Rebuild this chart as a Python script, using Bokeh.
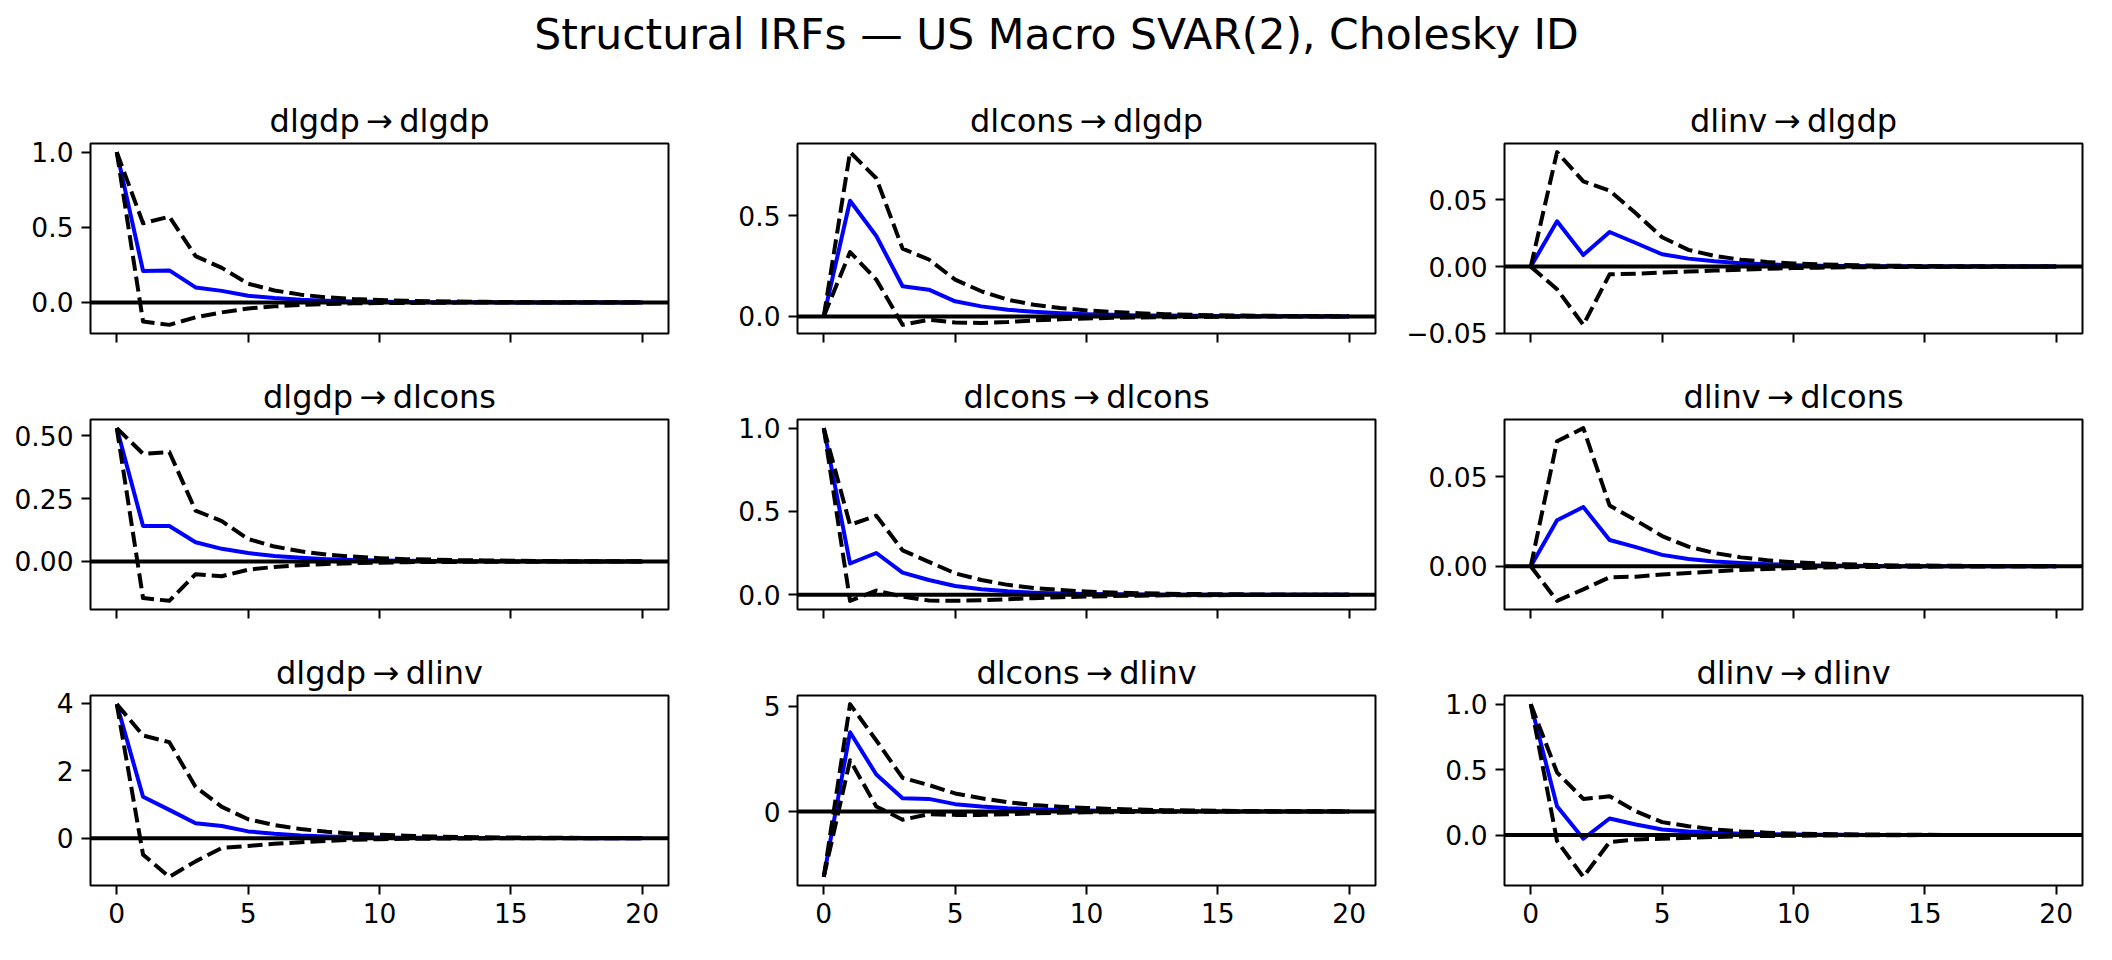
from bokeh.plotting import figure
from bokeh.models import Range1d, FixedTicker, CustomJSTickFormatter, Span
from bokeh.layouts import column, row
from bokeh.embed import file_html
from bokeh.resources import INLINE
from bokeh.core.properties import value

# ---------------- data ----------------
variables = ["dlgdp", "dlcons", "dlinv"]
horizon = list(range(21))
suptitle = "Structural IRFs \u2014 US Macro SVAR(2), Cholesky ID"

# response dlgdp
irf_dlgdp_dlgdp = [1.0, 0.21, 0.213, 0.10, 0.077, 0.045, 0.029, 0.018, 0.011, 0.007, 0.004, 0.003, 0.002, 0.001, 0.001, 0.0, 0.0, 0.0, 0.0, 0.0, 0.0]
hi_dlgdp_dlgdp = [1.0, 0.527, 0.571, 0.308, 0.23, 0.125, 0.08, 0.052, 0.034, 0.023, 0.016, 0.011, 0.008, 0.006, 0.004, 0.003, 0.002, 0.002, 0.001, 0.001, 0.001]
lo_dlgdp_dlgdp = [1.0, -0.127, -0.149, -0.099, -0.066, -0.040, -0.026, -0.016, -0.010, -0.006, -0.004, -0.003, -0.002, -0.001, -0.001, -0.001, 0.0, 0.0, 0.0, 0.0, 0.0]

irf_dlcons_dlgdp = [0.0, 0.575, 0.40, 0.15, 0.133, 0.075, 0.05, 0.033, 0.023, 0.016, 0.011, 0.008, 0.005, 0.004, 0.003, 0.002, 0.001, 0.001, 0.001, 0.0, 0.0]
hi_dlcons_dlgdp = [0.0, 0.817, 0.687, 0.337, 0.283, 0.183, 0.125, 0.083, 0.058, 0.042, 0.030, 0.022, 0.016, 0.011, 0.008, 0.006, 0.004, 0.003, 0.002, 0.002, 0.001]
lo_dlcons_dlgdp = [0.0, 0.32, 0.183, -0.042, -0.017, -0.030, -0.033, -0.028, -0.020, -0.014, -0.010, -0.007, -0.005, -0.004, -0.003, -0.002, -0.001, -0.001, -0.001, 0.0, 0.0]

irf_dlinv_dlgdp = [0.0, 0.034, 0.0088, 0.026, 0.0177, 0.0093, 0.006, 0.004, 0.0025, 0.0017, 0.0011, 0.0007, 0.0005, 0.0003, 0.0002, 0.0001, 0.0001, 0.0, 0.0, 0.0, 0.0]
hi_dlinv_dlgdp = [0.0, 0.0859, 0.064, 0.057, 0.040, 0.022, 0.0126, 0.008, 0.0052, 0.0035, 0.0024, 0.0017, 0.0012, 0.0008, 0.0006, 0.0004, 0.0003, 0.0002, 0.0002, 0.0001, 0.0001]
lo_dlinv_dlgdp = [0.0, -0.017, -0.0437, -0.0058, -0.0053, -0.0045, -0.0037, -0.003, -0.0023, -0.0016, -0.0011, -0.0008, -0.0005, -0.0004, -0.0003, -0.0002, -0.0001, -0.0001, 0.0, 0.0, 0.0]

# response dlcons
irf_dlgdp_dlcons = [0.53, 0.141, 0.141, 0.076, 0.05, 0.033, 0.021, 0.014, 0.009, 0.006, 0.004, 0.003, 0.002, 0.001, 0.001, 0.001, 0.0, 0.0, 0.0, 0.0, 0.0]
hi_dlgdp_dlcons = [0.53, 0.428, 0.435, 0.202, 0.160, 0.089, 0.059, 0.040, 0.027, 0.019, 0.013, 0.009, 0.007, 0.005, 0.004, 0.003, 0.002, 0.001, 0.001, 0.001, 0.001]
lo_dlgdp_dlcons = [0.53, -0.146, -0.157, -0.051, -0.059, -0.033, -0.022, -0.015, -0.010, -0.007, -0.005, -0.003, -0.002, -0.002, -0.001, -0.001, -0.001, 0.0, 0.0, 0.0, 0.0]

irf_dlcons_dlcons = [1.0, 0.188, 0.251, 0.133, 0.089, 0.053, 0.034, 0.021, 0.013, 0.008, 0.005, 0.003, 0.002, 0.001, 0.001, 0.0, 0.0, 0.0, 0.0, 0.0, 0.0]
hi_dlcons_dlcons = [1.0, 0.42, 0.475, 0.267, 0.198, 0.129, 0.089, 0.060, 0.041, 0.029, 0.020, 0.014, 0.010, 0.007, 0.005, 0.004, 0.003, 0.002, 0.001, 0.001, 0.001]
lo_dlcons_dlcons = [1.0, -0.036, 0.026, -0.010, -0.034, -0.036, -0.032, -0.026, -0.020, -0.014, -0.010, -0.007, -0.005, -0.003, -0.002, -0.002, -0.001, -0.001, 0.0, 0.0, 0.0]

irf_dlinv_dlcons = [0.0, 0.0257, 0.0331, 0.0147, 0.0107, 0.0064, 0.0041, 0.0027, 0.0018, 0.0012, 0.0008, 0.0005, 0.0003, 0.0002, 0.0001, 0.0001, 0.0, 0.0, 0.0, 0.0, 0.0]
hi_dlinv_dlcons = [0.0, 0.0699, 0.0772, 0.034, 0.0257, 0.0169, 0.011, 0.0074, 0.005, 0.0034, 0.0023, 0.0016, 0.0011, 0.0008, 0.0005, 0.0004, 0.0003, 0.0002, 0.0001, 0.0001, 0.0001]
lo_dlinv_dlcons = [0.0, -0.0193, -0.0129, -0.0061, -0.0058, -0.0046, -0.0037, -0.0028, -0.002, -0.0015, -0.001, -0.0007, -0.0005, -0.0004, -0.0003, -0.0002, -0.0001, -0.0001, 0.0, 0.0, 0.0]

# response dlinv
irf_dlgdp_dlinv = [3.98, 1.23, 0.84, 0.44, 0.36, 0.20, 0.13, 0.08, 0.05, 0.03, 0.02, 0.013, 0.008, 0.005, 0.003, 0.002, 0.001, 0.001, 0.0, 0.0, 0.0]
hi_dlgdp_dlinv = [3.98, 3.05, 2.85, 1.52, 0.93, 0.56, 0.39, 0.27, 0.19, 0.13, 0.10, 0.07, 0.05, 0.035, 0.025, 0.018, 0.013, 0.009, 0.006, 0.004, 0.003]
lo_dlgdp_dlinv = [3.98, -0.49, -1.15, -0.69, -0.29, -0.23, -0.17, -0.12, -0.08, -0.05, -0.03, -0.02, -0.014, -0.01, -0.007, -0.005, -0.003, -0.002, -0.001, -0.001, 0.0]

irf_dlcons_dlinv = [-3.11, 3.77, 1.76, 0.63, 0.60, 0.35, 0.24, 0.16, 0.11, 0.07, 0.05, 0.03, 0.02, 0.014, 0.009, 0.006, 0.004, 0.003, 0.002, 0.001, 0.001]
hi_dlcons_dlinv = [-3.11, 5.11, 3.38, 1.60, 1.26, 0.86, 0.63, 0.44, 0.31, 0.23, 0.17, 0.12, 0.09, 0.065, 0.047, 0.034, 0.025, 0.018, 0.013, 0.01, 0.007]
lo_dlcons_dlinv = [-3.11, 2.44, 0.24, -0.39, -0.13, -0.16, -0.16, -0.13, -0.09, -0.06, -0.04, -0.03, -0.02, -0.014, -0.01, -0.007, -0.005, -0.003, -0.002, -0.001, -0.001]

irf_dlinv_dlinv = [1.0, 0.22, -0.028, 0.127, 0.081, 0.043, 0.028, 0.018, 0.011, 0.007, 0.004, 0.003, 0.002, 0.001, 0.001, 0.0, 0.0, 0.0, 0.0, 0.0, 0.0]
hi_dlinv_dlinv = [1.0, 0.478, 0.276, 0.296, 0.182, 0.099, 0.068, 0.043, 0.028, 0.018, 0.012, 0.008, 0.006, 0.004, 0.003, 0.002, 0.001, 0.001, 0.001, 0.0, 0.0]
lo_dlinv_dlinv = [1.0, -0.046, -0.319, -0.053, -0.033, -0.028, -0.020, -0.015, -0.010, -0.007, -0.005, -0.003, -0.002, -0.001, -0.001, 0.0, 0.0, 0.0, 0.0, 0.0, 0.0]

xtick_values = [0, 5, 10, 15, 20]
xtick_labels = ["0", "5", "10", "15", "20"]

# y ticks per panel, row-major (response row, shock column)
ytick_values = [
    [0.0, 0.5, 1.0], [0.0, 0.5], [-0.05, 0.0, 0.05],
    [0.0, 0.25, 0.5], [0.0, 0.5, 1.0], [0.0, 0.05],
    [0, 2, 4], [0, 5], [0.0, 0.5, 1.0],
]
ytick_labels = [
    ["0.0", "0.5", "1.0"], ["0.0", "0.5"], ["\u22120.05", "0.00", "0.05"],
    ["0.00", "0.25", "0.50"], ["0.0", "0.5", "1.0"], ["0.00", "0.05"],
    ["0", "2", "4"], ["0", "5"], ["0.0", "0.5", "1.0"],
]

series = {
    ("dlgdp", "dlgdp"): (irf_dlgdp_dlgdp, lo_dlgdp_dlgdp, hi_dlgdp_dlgdp),
    ("dlcons", "dlgdp"): (irf_dlcons_dlgdp, lo_dlcons_dlgdp, hi_dlcons_dlgdp),
    ("dlinv", "dlgdp"): (irf_dlinv_dlgdp, lo_dlinv_dlgdp, hi_dlinv_dlgdp),
    ("dlgdp", "dlcons"): (irf_dlgdp_dlcons, lo_dlgdp_dlcons, hi_dlgdp_dlcons),
    ("dlcons", "dlcons"): (irf_dlcons_dlcons, lo_dlcons_dlcons, hi_dlcons_dlcons),
    ("dlinv", "dlcons"): (irf_dlinv_dlcons, lo_dlinv_dlcons, hi_dlinv_dlcons),
    ("dlgdp", "dlinv"): (irf_dlgdp_dlinv, lo_dlgdp_dlinv, hi_dlgdp_dlinv),
    ("dlcons", "dlinv"): (irf_dlcons_dlinv, lo_dlcons_dlinv, hi_dlcons_dlinv),
    ("dlinv", "dlinv"): (irf_dlinv_dlinv, lo_dlinv_dlinv, hi_dlinv_dlinv),
}

# ---------------- layout / style ----------------
FONT = "DejaVu Sans"
TICK_PX = "26.5px"
FRAME_W, FRAME_H = 578, 190
LEFT = [90, 109, 109]
RIGHT = [20, 20, 10]
TOP = 60
BOTTOM = [26, 26, 55]
TOTAL_W = sum(LEFT) + sum(RIGHT) + 3 * FRAME_W
TITLE_H = 83


def label_formatter(vals, labs):
    return CustomJSTickFormatter(args=dict(vals=list(vals), labs=list(labs)), code="""
        for (let i = 0; i < vals.length; i++) {
            if (Math.abs(tick - vals[i]) < 1e-9) { return labs[i]; }
        }
        return "";
    """)


def make_panel(r, c):
    response = variables[r]
    shock = variables[c]
    irf, lo, hi = series[(shock, response)]
    ymin = min(min(irf), min(lo), min(hi), 0.0)
    ymax = max(max(irf), max(lo), max(hi), 0.0)
    pad = 0.05 * (ymax - ymin)
    p = figure(
        width=LEFT[c] + FRAME_W + RIGHT[c],
        height=TOP + FRAME_H + BOTTOM[r],
        x_range=Range1d(-1, 21),
        y_range=Range1d(ymin - pad, ymax + pad),
        output_backend="svg",
        toolbar_location=None,
        min_border_left=LEFT[c],
        min_border_right=RIGHT[c],
        min_border_top=TOP,
        min_border_bottom=BOTTOM[r],
        title=shock + "\u2009\u2192\u2009" + response,
    )
    p.title.align = "center"
    p.title.text_font = FONT
    p.title.text_font_size = "32px"
    p.title.text_font_style = "normal"
    p.title.text_color = "black"
    p.title.standoff = 8
    p.background_fill_color = "white"
    p.border_fill_color = "white"
    p.outline_line_color = "black"
    p.outline_line_width = 2
    p.grid.visible = False

    for ax in (p.xaxis[0], p.yaxis[0]):
        ax.axis_line_color = None
        ax.major_tick_line_color = "black"
        ax.major_tick_line_width = 2
        ax.major_tick_in = 0
        ax.major_tick_out = 9
        ax.minor_tick_line_color = None
        ax.major_label_text_font = FONT
        ax.major_label_text_font_size = TICK_PX
        ax.major_label_text_color = "black"
        ax.major_label_standoff = 8

    p.xaxis.ticker = FixedTicker(ticks=xtick_values)
    if r == 2:
        p.xaxis.formatter = label_formatter(xtick_values, xtick_labels)
    else:
        p.xaxis.formatter = label_formatter(xtick_values, [""] * len(xtick_values))
    k = r * 3 + c
    p.yaxis.ticker = FixedTicker(ticks=ytick_values[k])
    p.yaxis.formatter = label_formatter(ytick_values[k], ytick_labels[k])

    p.line(horizon, irf, line_color="#0000ff", line_width=4, line_join="round")
    p.line(horizon, lo, line_color="black", line_width=4, line_dash="15 6", line_join="round")
    p.line(horizon, hi, line_color="black", line_width=4, line_dash="15 6", line_join="round")
    p.add_layout(Span(location=0, dimension="width", line_color="black", line_width=4))
    return p


tf = figure(
    width=TOTAL_W, height=TITLE_H,
    x_range=Range1d(0, TOTAL_W), y_range=Range1d(TITLE_H, 0),
    output_backend="svg", toolbar_location=None,
    x_axis_location=None, y_axis_location=None,
    min_border=0,
)
tf.outline_line_color = None
tf.grid.visible = False
tf.background_fill_color = "white"
tf.border_fill_color = "white"
tf.text(x=[1056], y=[34], text=[suptitle], text_align="center",
        text_baseline="alphabetic", text_font=value(FONT), text_font_size="42.5px",
        text_color="black")

rows = [row(*[make_panel(r, c) for c in range(3)]) for r in range(3)]
layout = column(tf, *rows)

open("out.html", "w").write(file_html(layout, INLINE, title="Structural IRFs"))
